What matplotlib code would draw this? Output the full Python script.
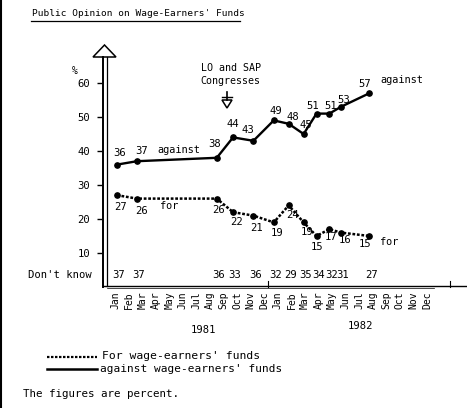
import numpy as np
import matplotlib
matplotlib.use("Agg")
import matplotlib.pyplot as plt
from matplotlib.lines import Line2D
from matplotlib.patches import Polygon

# poll dates, months after Jan 1981 (0 = Jan 1981)
poll_month = [0.15, 1.62, 7.5, 8.7, 10.2, 11.7, 12.8, 13.9, 14.85, 15.8, 16.65, 18.75]
against = [36, 37, 38, 44, 43, 49, 48, 45, 51, 51, 53, 57]
for_funds = [27, 26, 26, 22, 21, 19, 24, 19, 15, 17, 16, 15]
dont_know = [37, 37, 36, 33, 36, 32, 29, 35, 34, 32, 31, 27]
months = ["Jan", "Feb", "Mar", "Apr", "May", "Jun",
          "Jul", "Aug", "Sep", "Oct", "Nov", "Dec"] * 2
years = ["1981", "1982"]
y_ticks = [10, 20, 30, 40, 50, 60]

# label offsets in pixels (dx, dy) from each point
against_off = [(3, 12), (5, 10), (-2, 14), (0, 13), (-6, 11), (2, 9),
               (4, 7), (2, 9), (-4, 8), (1, 8), (3, 7), (-5, 9)]
for_off = [(4, -12), (5, -12), (2, -11), (4, -10), (3, -12), (3, -11),
           (4, -10), (3, -10), (1, -11), (2, -8), (4, -7), (-4, -8)]

W, H = 467, 408
MONO = "DejaVu Sans Mono"
plt.rcParams["font.family"] = MONO


def fp(x, y):
    # image pixel (from top-left) -> figure fraction
    return x / W, 1 - y / H


fig = plt.figure(figsize=(W / 100, H / 100), dpi=100)
# axes: x px = 115 + 13.57*m, y px = 287 - 3.4*v
x0 = (102 - 115) / 13.57
x1 = (467 - 115) / 13.57
ax = fig.add_axes([102 / W, (H - 287) / H, 365 / W, 247 / H])
ax.set_xlim(x0, x1)
ax.set_ylim(0, 247 / 3.4)
for s in ax.spines.values():
    s.set_visible(False)

# lines
ax.plot(poll_month, against, color="black", lw=1.7, marker="o", ms=3.8,
        solid_capstyle="round")
ax.plot(poll_month, for_funds, color="black", lw=1.8, marker="o", ms=3.8,
        dashes=(1.1, 0.7))

fs_lab = 7.6
for m, v, (dx, dy) in zip(poll_month, against, against_off):
    ax.annotate(str(v), (m, v), xytext=(dx, dy), textcoords="offset pixels",
                ha="center", va="center", fontsize=fs_lab)
for m, v, (dx, dy) in zip(poll_month, for_funds, for_off):
    ax.annotate(str(v), (m, v), xytext=(dx, dy), textcoords="offset pixels",
                ha="center", va="center", fontsize=fs_lab)
ax.annotate("against", (poll_month[1], against[1]), xytext=(20, 11),
            textcoords="offset pixels", ha="left", va="center", fontsize=7.4)
ax.annotate("against", (poll_month[-1], against[-1]), xytext=(11, 13),
            textcoords="offset pixels", ha="left", va="center", fontsize=7.4)
ax.annotate("for", (poll_month[1], for_funds[1]), xytext=(23, -7),
            textcoords="offset pixels", ha="left", va="center", fontsize=7.4)
ax.annotate("for", (poll_month[-1], for_funds[-1]), xytext=(11, -6),
            textcoords="offset pixels", ha="left", va="center", fontsize=7.4)

# don't know row
for m, v in zip(poll_month, dont_know):
    ax.annotate(str(v), (m, 3.5), xytext=(2, 0), textcoords="offset pixels",
                ha="center", va="center", fontsize=fs_lab)
fig.text(*fp(92, 275), "Don't know", ha="right", va="center", fontsize=7.6)

# ticks
ax.set_yticks(y_ticks)
ax.set_yticklabels([str(t) for t in y_ticks], fontsize=7.6)
ax.tick_params(axis="y", length=3.6, width=1, pad=5)
ax.set_xticks(range(len(months)))
ax.set_xticklabels(months, rotation=90, fontsize=7, va="top")
ax.tick_params(axis="x", length=0, pad=3)

# year labels
fig.text(*fp(203, 330), years[0], ha="center", va="center", fontsize=7.6)
fig.text(*fp(360, 326), years[1], ha="center", va="center", fontsize=7.6)

# y axis drawn as hollow arrow
fig.add_artist(Line2D([102.5 / W] * 2, [fp(0, 57)[1], fp(0, 287)[1]],
                      color="black", lw=1.4))
fig.add_artist(Line2D([107 / W] * 2, [fp(0, 57)[1], fp(0, 286)[1]],
                      color="black", lw=0.9))
fig.add_artist(Polygon([fp(93, 57), fp(116, 57), fp(104.5, 45)],
                       closed=True, fc="white", ec="black", lw=1.1,
                       transform=fig.transFigure))
fig.text(*fp(75, 71), "%", ha="center", va="center", fontsize=7)

# x axis
fig.add_artist(Line2D([103 / W, 1], [fp(0, 285.5)[1]] * 2, color="black", lw=1.0))
fig.add_artist(Line2D([107 / W, 0.93], [fp(0, 287.5)[1]] * 2, color="black", lw=0.5))
for xp in (268, 450):
    fig.add_artist(Line2D([xp / W] * 2, [fp(0, 281)[1], fp(0, 287)[1]],
                          color="black", lw=0.8))

# congress marker
fig.text(*fp(201, 68), "LO and SAP", ha="left", va="center", fontsize=7.2)
fig.text(*fp(200, 81), "Congresses", ha="left", va="center", fontsize=7.2)
fig.add_artist(Line2D([227 / W] * 2, [fp(0, 92)[1], fp(0, 100)[1]],
                      color="black", lw=1.2))
fig.add_artist(Line2D([222 / W, 232 / W], [fp(0, 97)[1]] * 2,
                      color="black", lw=1.0))
fig.add_artist(Polygon([fp(222, 100), fp(232, 100), fp(227, 108)],
                       closed=True, fc="white", ec="black", lw=1.1,
                       transform=fig.transFigure))

# title
fig.text(*fp(32, 13), "Public Opinion on Wage-Earners' Funds",
         ha="left", va="center", fontsize=6.8)
fig.add_artist(Line2D([31 / W, 240 / W], [fp(0, 20.5)[1]] * 2,
                      color="black", lw=0.9))

# legend
fig.add_artist(Line2D([47 / W, 97 / W], [fp(0, 357)[1]] * 2, color="black",
                      lw=1.6, dashes=(1.1, 0.7)))
fig.add_artist(Line2D([47 / W, 97 / W], [fp(0, 369)[1]] * 2, color="black",
                      lw=1.8))
fig.text(*fp(102, 356), "For wage-earners' funds", ha="left", va="center",
         fontsize=8.2)
fig.text(*fp(100, 369), "against wage-earners' funds", ha="left", va="center",
         fontsize=8.0)
fig.text(*fp(23, 394), "The figures are percent.", ha="left", va="center",
         fontsize=7.8)

# scan edge on the left
fig.add_artist(Line2D([1 / W] * 2, [0, 1], color="black", lw=1.5))

fig.savefig("out.png", dpi=100)
